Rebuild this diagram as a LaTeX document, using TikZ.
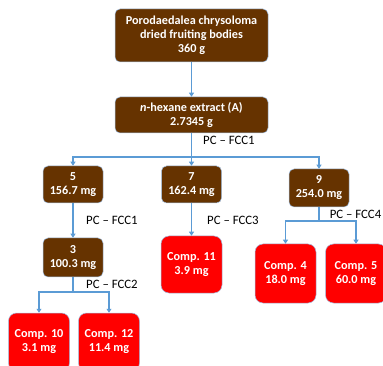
\documentclass[tikz,border=0pt]{standalone}
\usepackage{fontspec}
\setmainfont{Carlito}
\usetikzlibrary{arrows.meta}
\definecolor{brownbox}{RGB}{102,51,0}
\definecolor{redbox}{RGB}{255,0,0}
\definecolor{conncol}{RGB}{91,155,213}
\definecolor{edgecol}{RGB}{160,190,225}
\tikzset{
  boxbase/.style={rectangle, draw=edgecol, line width=0.5pt, text=white, align=center, inner sep=0pt,
    font=\fontsize{12.2}{14}\selectfont\bfseries},
  brownbox/.style={boxbase, fill=brownbox, rounded corners=5pt},
  redbox/.style={boxbase, fill=redbox, rounded corners=8pt, minimum width=61pt, minimum height=58pt},
  conn/.style={draw=conncol, line width=1.3pt},
  arr/.style={conn, -{Triangle[width=5pt,length=4pt]}},
  lbl/.style={anchor=west, inner sep=0pt, font=\fontsize{12.8}{15}\selectfont}
}
\begin{document}
\begin{tikzpicture}[x=1pt,y=-1pt]
\useasboundingbox (0,0) rectangle (383,366);
\clip (0,0) rectangle (383,366);
\node[brownbox, minimum width=153pt, minimum height=53pt] (top) at (191.5,35.5)
  {Porodaedalea chrysoloma\\dried fruiting bodies\\360 g};
\node[brownbox, minimum width=153pt, minimum height=36pt] (hex) at (191.5,115)
  {\textit{n}-hexane extract (A)\\2.7345 g};
\node[brownbox, minimum width=60pt, minimum height=37pt] (b5) at (73,184.5) {5\\156.7 mg};
\node[brownbox, minimum width=60pt, minimum height=37pt] (b7) at (191.5,184.5) {7\\162.4 mg};
\node[brownbox, minimum width=60pt, minimum height=38pt] (b9) at (319,188) {9\\254.0 mg};
\node[brownbox, minimum width=60pt, minimum height=39pt] (b3) at (73,257.5) {3\\100.3 mg};
\node[redbox, minimum height=57pt] (c11) at (191.5,264.5) {Comp. 11\\3.9 mg};
\node[redbox, minimum height=59pt] (c4) at (285.5,273.5) {Comp. 4\\18.0 mg};
\node[redbox, minimum height=59pt] (c5) at (356,273.5) {Comp. 5\\60.0 mg};
\node[redbox] (c10) at (39,342) {Comp. 10\\3.1 mg};
\node[redbox] (c12) at (109,342) {Comp. 12\\11.4 mg};

\coordinate (j1) at (191.5,157);
\coordinate (j9) at (319,221);
\coordinate (j3) at (73,292);

\draw[arr] (top) -- (hex);
\draw[conn] (hex.south) -- (j1);
\draw[arr] (j1) -| (b5.north);
\draw[arr] (j1) -| (b9.north);
\draw[arr] (j1) -- (b7.north);
\draw[arr] (b5) -- (b3);
\draw[arr] (b7) -- (c11);
\draw[conn] (b9.south) -- (j9);
\draw[arr] (j9) -| (c4.north);
\draw[arr] (j9) -| (c5.north);
\draw[conn] (b3.south) -- (j3);
\draw[arr] (j3) -| (c10.north);
\draw[arr] (j3) -| (c12.north);

\node[lbl] (l1) at (203,140) {PC -- FCC1};
\node[lbl] (l2) at (86,220) {PC -- FCC1};
\node[lbl] (l3) at (207,220) {PC -- FCC3};
\node[lbl, anchor=east] (l4) at (381.5,214) {PC -- FCC4};
\node[lbl] (l5) at (86,284) {PC -- FCC2};
\end{tikzpicture}
\end{document}
